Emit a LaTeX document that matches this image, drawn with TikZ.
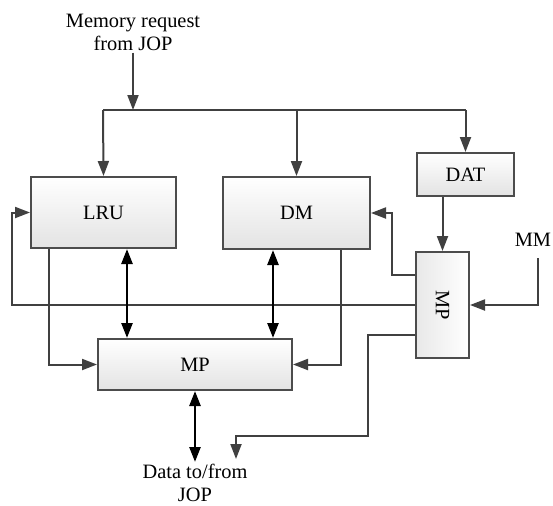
\documentclass[tikz,border=0pt]{standalone}
\usepackage{fontspec}
\setmainfont{Liberation Serif}
\usetikzlibrary{arrows.meta}

\begin{document}
\begin{tikzpicture}[x=0.5pt, y=-0.5pt,
    every node/.style={font=\fontsize{10.2}{11.5}\selectfont},
    unit/.style={draw=black!70, line width=1pt, inner sep=0pt,
      top color=white, bottom color=black!11},
    vunit/.style={draw=black!70, line width=1pt, inner sep=0pt,
      left color=black!9, right color=white},
    label/.style={align=center, inner sep=1pt},
    conn/.style={draw=black!75, line width=1pt, -{Triangle[length=7.5pt, width=5.5pt]}},
    wire/.style={draw=black!75, line width=1pt},
    dbl/.style={draw=black, line width=1.3pt, {Triangle[length=7.5pt, width=5.5pt]}-{Triangle[length=7.5pt, width=5.5pt]}}]
  \useasboundingbox (0,0) rectangle (553,505);

  % blocks
  \node[unit, minimum width=72.5pt, minimum height=35.5pt] (LRU) at (103.5,212.5) {LRU};
  \node[unit, minimum width=73.5pt, minimum height=36pt] (DM) at (296.5,213) {DM};
  \node[unit, minimum width=48.5pt, minimum height=21.5pt] (DAT) at (465.5,174.5) {DAT};
  \node[vunit, minimum width=26.5pt, minimum height=53pt] (MPr) at (442.5,305) {};
  \node[rotate=-90] at (MPr) {MP};
  \node[unit, minimum width=97pt, minimum height=25.5pt] (MPb) at (195,364.5) {MP};

  % texts
  \node[label] (req) at (133,32) {Memory request\\from JOP};
  \node[label] (MM) at (533,240) {MM};
  \node[label, anchor=north] (data) at (195,462) {Data to/from\\JOP};

  \coordinate (bus) at (103,110);
  \coordinate (mmIn) at (538,258);
  \coordinate (lft) at (12,0);
  \coordinate (bend) at (368,436);
  \coordinate (dataIn) at (236,459);

  % request bus
  \draw[conn] (req.south) -- (req.south |- bus);
  \draw[wire] (bus) -- (bus -| DAT.north);
  \draw[conn] (bus) -- (LRU.north);
  \draw[conn] (bus -| DM.north) -- (DM.north);
  \draw[conn] (bus -| DAT.north) -- (DAT.north);
  \draw[conn] (DAT.south -| MPr.north) -- (MPr.north);
  \draw[conn] (mmIn) |- (MPr.east);

  % feedback from the right MP
  \draw[conn] ([yshift=15pt]MPr.west) -- ++(-23,0) |- (DM.east);
  \draw[conn] (MPr.west) -- (MPr.west -| lft) |- (LRU.west);
  \draw[conn] ([yshift=-15pt]MPr.west) -| (bend) -| (dataIn);

  % into the bottom MP
  \draw[conn] ([xshift=9.5pt]LRU.south west) |- (MPb.west);
  \draw[conn] ([xshift=-15pt]DM.south east) |- (MPb.east);
  \draw[dbl] ([xshift=11.75pt]LRU.south) -- ([xshift=11.75pt]LRU.south |- MPb.north);
  \draw[dbl] ([xshift=-11.75pt]DM.south) -- ([xshift=-11.75pt]DM.south |- MPb.north);
  \draw[dbl] (MPb.south) -- (data.north);
\end{tikzpicture}
\end{document}
